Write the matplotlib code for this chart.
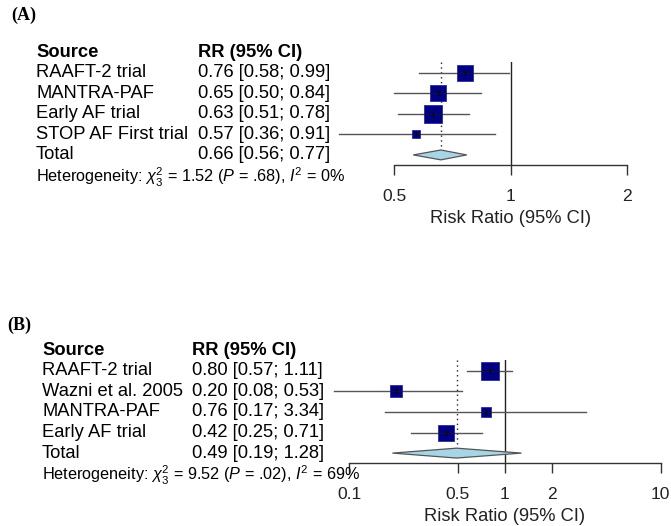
import numpy as np
import matplotlib
matplotlib.use("Agg")
import matplotlib.pyplot as plt
from matplotlib import transforms
from matplotlib.patches import Polygon

plt.rcParams['font.family'] = ['Liberation Sans', 'DejaVu Sans']
plt.rcParams['mathtext.fontset'] = 'custom'
plt.rcParams['mathtext.rm'] = 'Liberation Sans'
plt.rcParams['mathtext.it'] = 'Liberation Sans:italic'
plt.rcParams['mathtext.bf'] = 'Liberation Sans:bold'

# ---------------- data ----------------
A_studies = ["RAAFT-2 trial", "MANTRA-PAF", "Early AF trial", "STOP AF First trial"]
A_rr = [0.76, 0.65, 0.63, 0.57]
A_lo = [0.58, 0.50, 0.51, 0.36]
A_hi = [0.99, 0.84, 0.78, 0.91]
A_weight = [27, 27, 38, 8]
A_total = [0.66, 0.56, 0.77]
A_het = [1.52, 3, 0.68, 0]          # chi2, df, P, I2
A_ticks = [0.5, 1, 2]
A_ticklabels = ["0.5", "1", "2"]

B_studies = ["RAAFT-2 trial", "Wazni et al. 2005", "MANTRA-PAF", "Early AF trial"]
B_rr = [0.80, 0.20, 0.76, 0.42]
B_lo = [0.57, 0.08, 0.17, 0.25]
B_hi = [1.11, 0.53, 3.34, 0.71]
B_weight = [37, 19, 11, 33]
B_total = [0.49, 0.19, 1.28]
B_het = [9.52, 3, 0.02, 69]
B_ticks = [0.1, 0.5, 1, 2, 10]
B_ticklabels = ["0.1", "0.5", "1", "2", "10"]

W, H = 671, 526
fig = plt.figure(figsize=(W / 100, H / 100), dpi=100)

FS = 13.2
TFS = 12.6
HFS = 11.7
SQ_K = 2.95  # px per sqrt(weight%)


def panel(label, label_xy, ax_px, xlim, studies, rr, lo, hi, wt, total, het,
          ticks, ticklabels, src_x, rr_x):
    x0, y0, x1, y1 = ax_px
    ax = fig.add_axes([x0 / W, 1 - y1 / H, (x1 - x0) / W, (y1 - y0) / H])
    ax.set_xscale('log')
    ax.set_xlim(*xlim)
    ax.set_ylim(4.5, -0.5)
    for s in ['top', 'left', 'right']:
        ax.spines[s].set_visible(False)
    ax.spines['bottom'].set_bounds(ticks[0], ticks[-1])
    ax.spines['bottom'].set_color('#333333')
    ax.spines['bottom'].set_linewidth(1.0)
    ax.set_yticks([])
    ax.set_xticks(ticks)
    ax.set_xticklabels(ticklabels)
    ax.minorticks_off()
    ax.tick_params(axis='x', which='major', direction='out', length=7.2, width=1.0,
                   color='#333333', pad=10, labelsize=TFS, labelcolor='#222222')
    ax.patch.set_alpha(0)

    n = len(studies)
    ys = np.arange(n)
    # null line and pooled dotted line
    ax.axvline(1, ymin=0, ymax=1, color='#222222', lw=1.0, zorder=1)
    ax.plot([total[0], total[0]], [-0.5, n - 0.25], color='#222222', lw=1.0,
            ls=(0, (1, 2.5)), zorder=1)
    # CIs and squares
    for i in range(n):
        sq = SQ_K * np.sqrt(wt[i]) * 0.72
        ax.plot([lo[i], hi[i]], [ys[i], ys[i]], color='#555555', lw=1.0, zorder=2)
        ax.plot(rr[i], ys[i], marker='s', ms=sq,
                mfc='#000080', mec='#2a2aa0', mew=0.6, ls='none', zorder=3)
        ax.plot(rr[i], ys[i], marker='_', ms=sq, mec='#10103a', mew=0.8, zorder=4)
        ax.plot(rr[i], ys[i], marker='|', ms=4, mec='black', mew=0.8, zorder=5)
    # diamond
    yd = n
    h = 0.24
    diamond = Polygon([[total[1], yd], [total[0], yd - h], [total[2], yd], [total[0], yd + h]],
                      closed=True, facecolor='#a8d5e5', edgecolor='#555555', lw=0.9, zorder=3)
    ax.add_patch(diamond)

    # x label centred on 1
    ax.text(1, -0.515, "Risk Ratio (95% CI)", transform=transforms.blended_transform_factory(
        ax.transData, ax.transAxes), ha='center', va='center', fontsize=FS, color='#222222')

    tr = transforms.blended_transform_factory(fig.transFigure, ax.transData)
    ax.text(src_x / W, -1, "Source", transform=tr, ha='left', va='center',
            fontsize=FS, fontweight='bold')
    ax.text(rr_x / W, -1, "RR (95% CI)", transform=tr, ha='left', va='center',
            fontsize=FS, fontweight='bold')
    for i in range(n):
        ax.text(src_x / W, ys[i], studies[i], transform=tr, ha='left', va='center', fontsize=FS)
        ax.text(rr_x / W, ys[i], f"{rr[i]:.2f} [{lo[i]:.2f}; {hi[i]:.2f}]", transform=tr,
                ha='left', va='center', fontsize=FS)
    ax.text(src_x / W, n, "Total", transform=tr, ha='left', va='center', fontsize=FS)
    ax.text(rr_x / W, n, f"{total[0]:.2f} [{total[1]:.2f}; {total[2]:.2f}]", transform=tr,
            ha='left', va='center', fontsize=FS)
    chi2, df, p, i2 = het
    ptxt = f"{p:.2f}".lstrip("0")
    ax.text(src_x / W, n + 1.07,
            f"Heterogeneity: $\\chi^2_{{{df}}}$ = {chi2:.2f} ($P$ = {ptxt}), $I^2$ = {i2}%",
            transform=tr, ha='left', va='center', fontsize=HFS)
    fig.text(label_xy[0] / W, 1 - label_xy[1] / H, label, family='Liberation Serif',
             fontweight='bold', fontsize=13, ha='left', va='center')
    return ax


A_xlim = (2 ** ((330 - 510.7) / 116.5), 2 ** ((665 - 510.7) / 116.5))
B_xlim = (10 ** ((330 - 349) / 155.8 - 1), 10 ** ((665 - 349) / 155.8 - 1))

panel("(A)", (11, 15), (330, 62.4, 665, 165.2), A_xlim, A_studies, A_rr, A_lo, A_hi,
      A_weight, A_total, A_het, A_ticks, A_ticklabels, 36, 198)
panel("(B)", (7, 325), (330, 360.4, 665, 463.4), B_xlim, B_studies, B_rr, B_lo, B_hi,
      B_weight, B_total, B_het, B_ticks, B_ticklabels, 42, 192)

fig.savefig("out.png", dpi=100, facecolor='white')
